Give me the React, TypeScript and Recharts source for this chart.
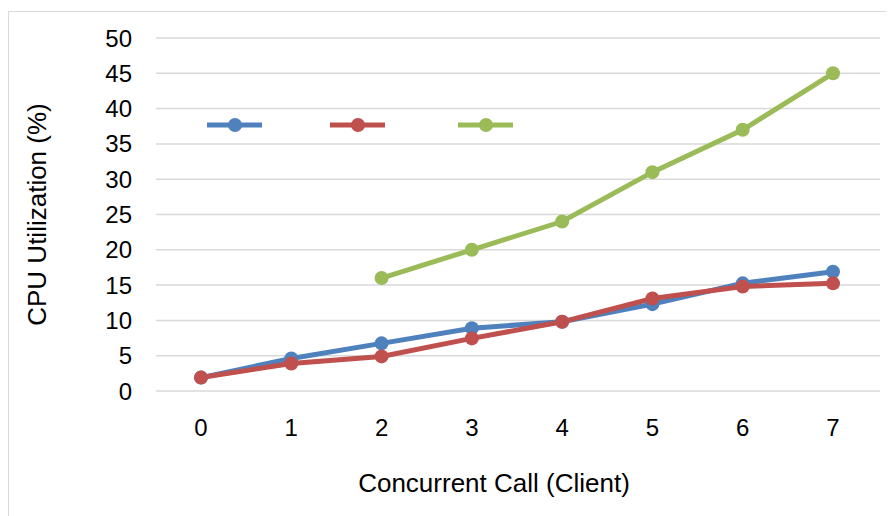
import React from 'react';
import { LineChart, Line, XAxis, YAxis, CartesianGrid, Legend } from 'recharts';

const categories = ['0', '1', '2', '3', '4', '5', '6', '7'];
const blueValues = [1.9, 4.6, 6.75, 8.9, 9.8, 12.3, 15.25, 16.9];
const redValues = [1.9, 3.9, 4.9, 7.45, 9.8, 13.1, 14.8, 15.25];
const greenValues: (number | null)[] = [null, null, 16, 20, 24, 31, 37, 45];
const yTicks = [0, 5, 10, 15, 20, 25, 30, 35, 40, 45, 50];

const seriesNames = ['Series1', 'Series2', 'Series3'];
const colors = ['#4f81bd', '#c0504d', '#9bbb59'];

const data = categories.map((c, i) => ({
  x: c,
  s1: blueValues[i],
  s2: redValues[i],
  s3: greenValues[i],
}));

const font = 'Liberation Sans, Arial, sans-serif';

const LegendContent = () => {
  const offsets = [0, 123, 251];
  return (
    <svg width={320} height={16} style={{ display: 'block' }}>
      {colors.map((c, i) => (
        <g key={i}>
          <line x1={offsets[i]} x2={offsets[i] + 55} y1={8} y2={8} stroke={c} strokeWidth={5} />
          <circle cx={offsets[i] + 28} cy={8} r={7} fill={c} />
        </g>
      ))}
    </svg>
  );
};

export default function App() {
  return (
    <div
      style={{
        width: 886,
        height: 505,
        marginTop: 3,
        borderTop: '1px solid #d9d9d9',
        borderLeft: '1px solid #d9d9d9',
        position: 'relative',
        boxSizing: 'border-box',
      }}
    >
      <LineChart
        width={885}
        height={504}
        data={data}
        margin={{ top: 26, right: 14, bottom: 0, left: 0 }}
        style={{ fontFamily: font }}
      >
        <CartesianGrid vertical={false} stroke="#d9d9d9" strokeWidth={1.5} />
        <XAxis
          dataKey="x"
          axisLine={false}
          tickLine={false}
          tickSize={8}
          tickMargin={20}
          height={109}
          padding={{ left: 45, right: 47 }}
          tick={{ fill: '#000', fontSize: 24, fontFamily: font }}
          label={{
            value: 'Concurrent Call (Client)',
            position: 'insideBottom',
            offset: 8,
            dx: -24,
            style: { fill: '#000', fontSize: 26, fontFamily: font },
          }}
        />
        <YAxis
          domain={[0, 50]}
          ticks={yTicks}
          interval={0}
          axisLine={false}
          tickLine={false}
          tickSize={8}
          tickMargin={16}
          width={147}
          tick={{ fill: '#000', fontSize: 24, fontFamily: font }}
          label={{
            value: 'CPU Utilization (%)',
            angle: -90,
            position: 'insideLeft',
            offset: 28,
            style: { fill: '#000', fontSize: 26, fontFamily: font, textAnchor: 'middle' },
          }}
        />
        <Legend
          content={<LegendContent />}
          wrapperStyle={{ position: 'absolute', left: 198, top: 105, width: 320, height: 16 }}
        />
        {['s1', 's2', 's3'].map((k, i) => (
          <Line
            key={k}
            type="linear"
            dataKey={k}
            name={seriesNames[i]}
            stroke={colors[i]}
            strokeWidth={5}
            dot={{ r: 7, fill: colors[i], stroke: colors[i], strokeWidth: 0 }}
            activeDot={false}
            isAnimationActive={false}
            connectNulls={false}
          />
        ))}
      </LineChart>
    </div>
  );
}
